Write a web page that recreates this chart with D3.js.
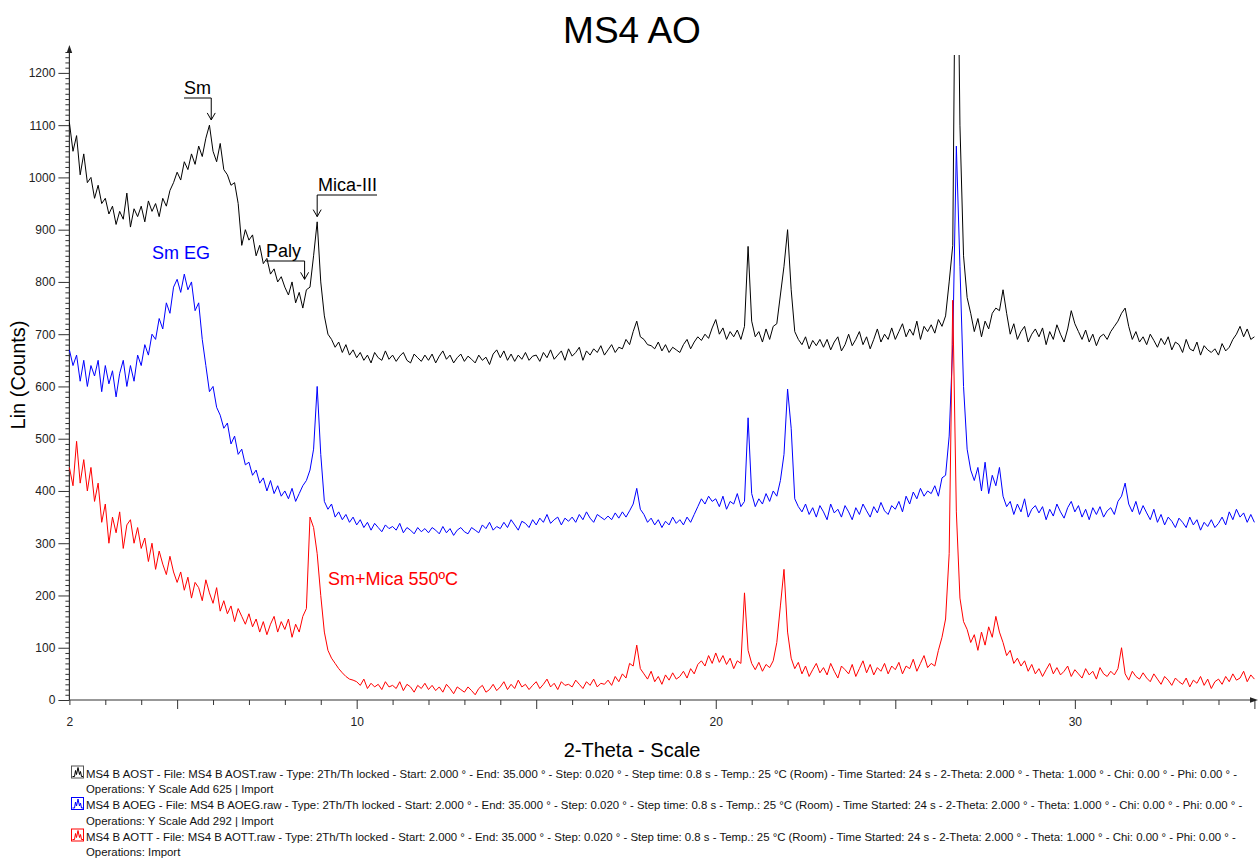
<!DOCTYPE html>
<html><head><meta charset="utf-8">
<script src="https://cdn.jsdelivr.net/npm/d3@7"></script>
<style>
html,body{margin:0;padding:0;background:#fff;}
svg{display:block;font-family:"Liberation Sans",Arial,sans-serif;}
</style></head>
<body><svg id="chart" width="1258" height="858"></svg>
<script>
// ---- data (2-Theta grid: start 2.0, step 0.1, to 35.0) ----
const twoThetaStart = 2.0;
const twoThetaStep = 0.1;

const aostCounts = [
1105,1050,1080,1005,1045,990,1000,960,985,950,
960,930,945,910,935,920,970,905,940,925,
945,915,955,935,950,925,960,945,975,990,
1010,995,1030,1015,1045,1025,1060,1040,1075,1100,
1050,1030,1065,1015,1005,985,990,950,870,900,
880,890,850,870,835,845,815,825,800,810,
790,775,800,760,780,750,785,790,850,915,
800,735,700,690,675,685,665,680,660,670,
655,665,650,660,645,665,655,650,668,652,
660,648,658,665,650,645,662,655,648,660,
650,662,645,658,668,652,660,645,655,662,
648,658,652,645,660,650,656,642,662,670,
655,668,650,662,648,660,652,665,650,658,
660,648,665,655,670,652,660,668,650,672,
658,665,675,650,668,660,672,665,678,660,
670,680,665,675,672,690,680,705,725,695,
690,680,678,672,685,668,680,665,675,670,
665,680,690,672,685,695,688,700,692,712,
728,700,712,690,705,695,708,690,715,868,
725,695,705,685,710,690,715,720,775,830,
900,785,705,690,680,695,672,688,678,690,
675,690,670,685,695,668,680,700,678,690,
705,680,695,672,690,710,685,700,690,712,
690,705,720,695,710,698,725,690,715,705,
718,702,728,715,735,800,870,1700,1100,850,
770,740,705,730,695,725,710,740,750,745,
785,740,700,720,690,705,715,685,700,710,
695,712,680,705,690,718,700,685,710,745,
720,705,690,708,685,700,678,695,700,690,
705,715,725,740,750,715,690,705,685,695,
680,700,688,675,692,680,695,670,685,680,
665,690,672,668,685,660,678,670,665,672,
660,682,668,675,690,700,715,695,710,690,
695];

const aoegCounts = [
670,640,660,610,650,600,640,620,650,590,
640,605,630,580,625,650,600,640,610,660,
640,680,660,700,690,730,710,760,740,790,
805,780,815,785,800,745,760,690,640,590,
600,560,545,520,530,490,505,470,480,450,
455,430,440,415,425,400,420,395,410,390,
400,385,405,380,395,410,420,440,480,600,
470,380,365,375,350,360,345,355,340,350,
335,345,330,340,325,338,330,322,335,328,
332,325,338,320,330,325,318,330,322,328,
320,330,325,318,332,320,328,315,325,330,
322,318,330,325,320,335,328,340,325,332,
328,340,330,345,335,325,342,338,330,345,
335,348,340,355,338,345,350,335,348,342,
350,340,355,345,360,348,340,355,350,345,
352,345,358,348,360,350,362,375,405,365,
355,340,348,335,345,330,342,335,350,338,
345,335,350,340,355,370,385,375,390,380,
385,370,390,365,380,375,395,370,380,540,
395,370,385,375,395,380,400,390,420,470,
595,520,385,370,360,375,355,368,350,372,
360,345,375,358,365,350,372,360,345,368,
355,375,362,350,370,358,378,362,355,372,
365,380,360,390,375,398,385,405,390,400,
395,410,390,425,430,505,680,1060,830,600,
480,440,420,445,400,455,395,430,410,445,
390,370,380,355,375,360,385,350,365,372,
358,370,345,365,352,375,360,348,368,380,
360,372,350,365,345,368,355,370,350,362,
368,355,380,390,415,375,360,380,355,372,
358,345,365,340,355,335,350,342,330,348,
340,330,350,335,345,325,340,332,345,330,
338,350,335,360,345,365,350,358,340,355,
340];

const aottCounts = [
445,410,495,415,460,400,445,380,415,340,
375,300,350,320,360,290,335,345,300,330,
290,310,265,300,250,285,260,240,275,245,
225,245,210,235,195,225,215,190,230,205,
185,215,170,190,165,180,150,175,160,145,
165,140,155,130,150,125,145,160,130,150,
135,155,120,145,130,160,175,350,330,280,
200,130,95,80,70,60,52,45,40,38,
35,28,40,22,32,25,30,20,35,25,
28,22,35,18,30,25,15,28,22,32,
20,28,18,25,15,30,22,12,25,20,
15,25,18,10,22,28,15,20,30,18,
25,35,20,30,22,38,25,30,20,28,
35,22,30,40,25,32,20,35,28,30,
25,38,30,22,35,28,40,25,32,30,
38,28,45,35,50,42,70,65,105,60,
50,40,55,35,45,30,48,38,52,40,
45,55,42,60,50,68,75,65,85,70,
90,72,85,68,80,60,75,70,205,95,
70,58,72,55,68,62,75,110,180,250,
130,80,60,72,50,65,45,58,70,52,
62,48,70,55,42,65,58,50,68,45,
60,75,52,68,48,62,55,70,50,65,
58,72,50,65,60,78,55,70,85,62,
70,65,95,120,155,280,765,360,195,150,
135,110,125,95,130,105,140,120,160,130,
110,85,95,70,80,65,75,55,68,50,
60,45,58,70,50,62,48,55,65,45,
58,50,42,60,48,55,40,62,50,45,
55,48,60,100,50,38,55,45,40,52,
42,35,50,40,30,45,38,28,42,35,
30,42,25,38,32,45,28,40,22,35,
40,30,45,35,50,38,42,55,35,48,
40];

const seriesNames = ["MS4 B AOST", "MS4 B AOEG", "MS4 B AOTT"];
const seriesColors = ["#000000", "#0000ff", "#ff0000"];
const seriesOps = ["Operations: Y Scale Add 625 | Import", "Operations: Y Scale Add 292 | Import", "Operations: Import"];
const yTickValues = [0,100,200,300,400,500,600,700,800,900,1000,1100,1200];
const xTickLabels = [2,10,20,30];

const title = "MS4 AO";
const xTitle = "2-Theta - Scale";
const yTitle = "Lin (Counts)";

// ---- layout ----
const svg = d3.select("#chart");
const x = d3.scaleLinear().domain([2, 35]).range([69.4, 1254.4]);
const y = d3.scaleLinear().domain([0, 1240]).range([700, 52]);

const series = [aostCounts, aoegCounts, aottCounts].map(arr =>
  arr.map((v, i) => ({t: twoThetaStart + i * twoThetaStep, v})));

svg.append("defs").append("clipPath").attr("id","plotclip")
  .append("rect").attr("x",69).attr("y",55).attr("width",1190).attr("height",646);

// title
svg.append("text").attr("x",632).attr("y",43).attr("text-anchor","middle")
  .attr("font-size",37).attr("fill","#000").text(title);

// axes
const minorY = d3.range(0, 1241, 10).filter(v => v % 100 !== 0);
svg.append("g").attr("transform","translate(69.4,0)")
  .call(d3.axisLeft(y).tickValues(minorY).tickSize(4).tickFormat(""))
  .call(g => g.select(".domain").remove())
  .call(g => g.selectAll("line").attr("stroke","#333"));
svg.append("g").attr("transform","translate(69.4,0)")
  .call(d3.axisLeft(y).tickValues(yTickValues).tickSize(11).tickPadding(3).tickFormat(d3.format("d")))
  .call(g => g.select(".domain").remove())
  .call(g => g.selectAll("line").attr("stroke","#333"))
  .call(g => g.selectAll("text").attr("font-size",12).attr("font-family","Liberation Sans, Arial").attr("fill","#222"));

const minorX = d3.range(2, 36).filter(v => v % 5 !== 0);
const majorX = d3.range(5, 36, 5);
svg.append("g").attr("transform","translate(0,700)")
  .call(d3.axisBottom(x).tickValues(minorX).tickSize(5).tickFormat(""))
  .call(g => g.select(".domain").remove())
  .call(g => g.selectAll("line").attr("stroke","#333"));
svg.append("g").attr("transform","translate(0,700)")
  .call(d3.axisBottom(x).tickValues(majorX).tickSize(9).tickFormat(""))
  .call(g => g.select(".domain").remove())
  .call(g => g.selectAll("line").attr("stroke","#333"));
svg.append("g").attr("transform","translate(0,700)")
  .call(d3.axisBottom(x).tickValues(xTickLabels).tickSize(0).tickPadding(17).tickFormat(d3.format("d")))
  .call(g => g.select(".domain").remove())
  .call(g => g.selectAll("text").attr("font-size",12).attr("font-family","Liberation Sans, Arial").attr("fill","#222"));

// axis lines with arrows
svg.append("line").attr("x1",69.4).attr("x2",69.4).attr("y1",700).attr("y2",48).attr("stroke","#333").attr("stroke-width",1.2);
svg.append("path").attr("d","M69.4,45 L66.6,53 L72.2,53 Z").attr("fill","#222");
svg.append("line").attr("x1",69.4).attr("x2",1255).attr("y1",700).attr("y2",700).attr("stroke","#333").attr("stroke-width",1.2);
svg.append("path").attr("d","M1258,700 L1250,697.2 L1250,702.8 Z").attr("fill","#222");

// series
const line = d3.line().x(d => x(d.t)).y(d => y(d.v));
const plot = svg.append("g").attr("clip-path","url(#plotclip)");
series.forEach((s, k) => {
  plot.append("path").datum(s).attr("d", line).attr("fill","none")
    .attr("stroke", seriesColors[k]).attr("stroke-width",1).attr("stroke-linejoin","round");
});

// axis titles
svg.append("text").attr("transform","translate(25,375) rotate(-90)").attr("text-anchor","middle")
  .attr("font-size",20).attr("fill","#000").text(yTitle);
svg.append("text").attr("x",632).attr("y",757).attr("text-anchor","middle")
  .attr("font-size",20).attr("fill","#000").text(xTitle);

// annotations (label + leader line + arrow)
function annot(label, tx, ty, x1, x2, ay, color) {
  svg.append("text").attr("x",tx).attr("y",ty).attr("font-size",18).attr("fill",color).text(label);
  const lineY = ty + 4;
  svg.append("path").attr("d",`M${x1},${lineY} L${x2},${lineY} L${x2},${ay}`)
    .attr("fill","none").attr("stroke",color).attr("stroke-width",1);
  svg.append("path").attr("d",`M${x2-4},${ay-7} L${x2},${ay} L${x2+4},${ay-7}`)
    .attr("fill","none").attr("stroke",color).attr("stroke-width",1);
}
annot("Sm", 184, 94, 184, x(5.95), y(1110), "#000");
annot("Mica-III", 318, 191, 377, x(8.9), y(925), "#000");
annot("Paly", 266, 257, 266, x(8.55), y(805), "#000");

svg.append("text").attr("x",152).attr("y",259).attr("font-size",18).attr("fill","#0000ff").text("Sm EG");
svg.append("text").attr("x",328).attr("y",585).attr("font-size",18).attr("fill","#ff0000").text("Sm+Mica 550ºC");

// legend
const legendDetail = n => ` - File: ${n}.raw - Type: 2Th/Th locked - Start: 2.000 ° - End: 35.000 ° - Step: 0.020 ° - Step time: 0.8 s - Temp.: 25 °C (Room) - Time Started: 24 s - 2-Theta: 2.000 ° - Theta: 1.000 ° - Chi: 0.00 ° - Phi: 0.00 ° -`;
const legend = svg.append("g");
seriesNames.forEach((n, k) => {
  const by = 777.5 + k * 31.5;
  const g = legend.append("g");
  g.append("rect").attr("x",71.5).attr("y",by-11.5).attr("width",12).attr("height",12)
    .attr("fill","#fff").attr("stroke", k === 0 ? "#555" : seriesColors[k]).attr("stroke-width",1);
  g.append("path").attr("d",`M72.5,${by-1} L74.5,${by-1} L75.5,${by-7} L76.5,${by-3} L78,${by-10} L79.5,${by-3} L80.5,${by-6} L81.5,${by-1} L83,${by-1}`)
    .attr("fill","none").attr("stroke", k === 0 ? "#000" : seriesColors[k]).attr("stroke-width",1);
  g.append("text").attr("x",86).attr("y",by).attr("font-size",11.4)
    .attr("fill","#111").text(n + legendDetail(n));
  g.append("text").attr("x",86).attr("y",by+15.7).attr("font-size",11.4).attr("fill","#111").text(seriesOps[k]);
});
</script>
</body></html>
